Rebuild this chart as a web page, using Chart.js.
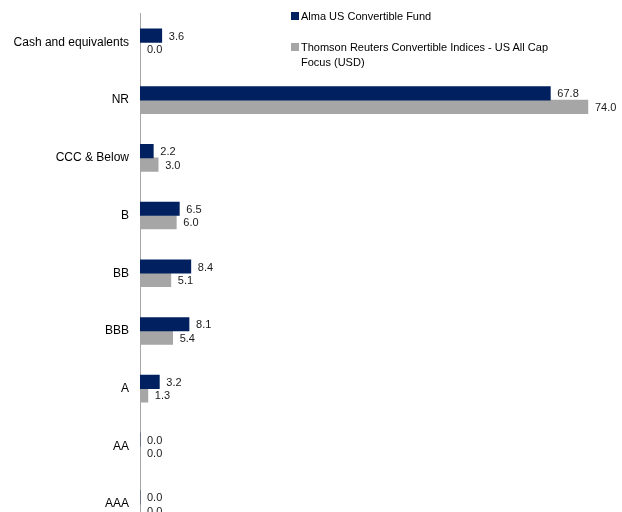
<!DOCTYPE html>
<html>
<head>
<meta charset="utf-8">
<script src="https://cdn.jsdelivr.net/npm/chart.js@4.4.0/dist/chart.umd.min.js"></script>
<style>
  html, body { margin: 0; padding: 0; background: #fff; overflow: hidden; }
  #wrap { position: relative; width: 622px; height: 512px; overflow: hidden; }
  canvas { position: absolute; left: 0; top: 0; }
  .leg { position: absolute; left: 291px; font: 11px "Liberation Sans", Arial, sans-serif; color: #000; line-height: 15px; }
  .leg span.sw { position: absolute; left: 0; top: 3px; width: 8px; height: 8px; }
  .leg div { padding-left: 10px; }
</style>
</head>
<body>
<div id="wrap">
  <canvas id="grafico" width="622" height="533"></canvas>
  <div class="leg" style="top:9px"><span class="sw" style="background:#002060"></span><div>Alma US Convertible Fund</div></div>
  <div class="leg" style="top:40px"><span class="sw" style="background:#A6A6A6"></span><div>Thomson Reuters Convertible Indices - US All Cap<br>Focus (USD)</div></div>
</div>
<script>
// categorias de rating, de cima para baixo
const categorias = ['Cash and equivalents', 'NR', 'CCC & Below', 'B', 'BB', 'BBB', 'A', 'AA', 'AAA'];
const fundo = [3.6, 67.8, 2.2, 6.5, 8.4, 8.1, 3.2, 0.0, 0.0];
const indice = [0.0, 74.0, 3.0, 6.0, 5.1, 5.4, 1.3, 0.0, 0.0];
const nomesSeries = ['Alma US Convertible Fund', 'Thomson Reuters Convertible Indices - US All Cap Focus (USD)'];

const ctx = document.getElementById('grafico').getContext('2d');

new Chart(ctx, {
    type: 'bar',
    data: {
        labels: categorias,
        datasets: [
            {
                label: nomesSeries[0],
                data: fundo,
                backgroundColor: '#002060',
                barThickness: 13.5
            },
            {
                label: nomesSeries[1],
                data: indice,
                backgroundColor: '#A6A6A6',
                barThickness: 13.5
            }
        ]
    },
    options: {
        indexAxis: 'y',
        responsive: false,
        animation: false,
        devicePixelRatio: 1,
        layout: { padding: { top: 13.5, right: 22, bottom: 0, left: 0 } },
        plugins: {
            legend: { display: false },
            tooltip: { enabled: false }
        },
        scales: {
            x: { display: false, min: 0, max: 76 },
            y: {
                afterFit: (scale) => {
                    scale.width = 140;
                    scale.paddingTop = 0;
                    scale.paddingBottom = 0;
                },
                grid: { display: true, color: 'transparent', drawTicks: false },
                border: { display: true, color: '#A6A6A6', width: 1 },
                ticks: {
                    color: '#000',
                    padding: 11,
                    font: { family: '"Liberation Sans", Arial, sans-serif', size: 12 }
                }
            }
        }
    },
    plugins: [{
        id: 'rotulosValores',
        afterDatasetsDraw: (chart) => {
            const { ctx } = chart;
            ctx.save();
            ctx.font = '11px "Liberation Sans", Arial, sans-serif';
            ctx.fillStyle = '#1a1a1a';
            ctx.textAlign = 'left';
            ctx.textBaseline = 'middle';
            chart.data.datasets.forEach((ds, i) => {
                chart.getDatasetMeta(i).data.forEach((bar, j) => {
                    ctx.fillText(ds.data[j].toFixed(1), bar.x + 7, bar.y + 1);
                });
            });
            ctx.restore();
        }
    }]
});
</script>
</body>
</html>
